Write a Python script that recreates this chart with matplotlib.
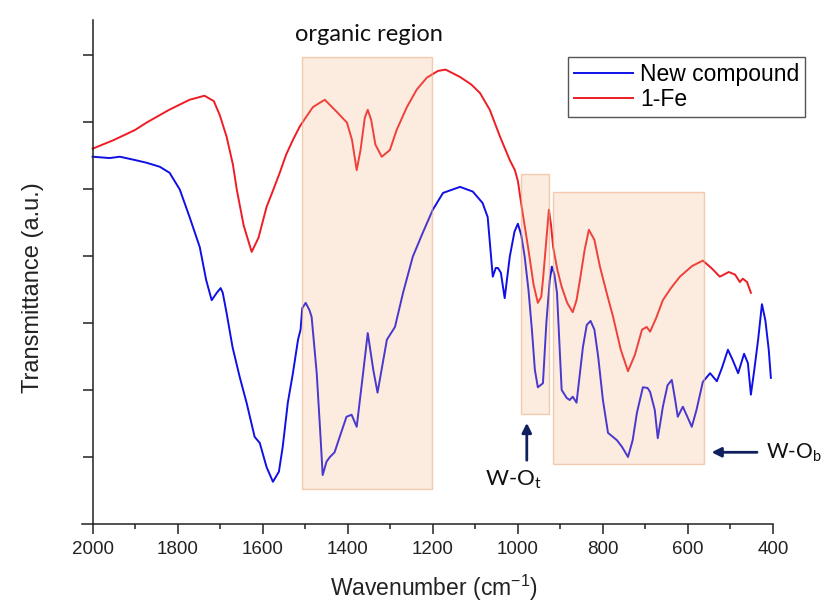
import matplotlib.pyplot as plt
from matplotlib.patches import Rectangle

plt.rcParams['font.family'] = 'Liberation Sans'
plt.rcParams['mathtext.fontset'] = 'custom'
plt.rcParams['mathtext.rm'] = 'Liberation Sans'

# espectro IR, 1-Fe (rojo)
wn_fe = [2000, 1950, 1900, 1873, 1820, 1772, 1737, 1715, 1701, 1685, 1670, 1661, 1645, 1626, 1610,
         1591, 1575, 1560, 1545, 1529, 1513, 1495, 1482, 1467, 1454, 1440, 1426, 1402, 1390, 1379,
         1370, 1360, 1353, 1345, 1335, 1320, 1301, 1285, 1261, 1238, 1214, 1188, 1170, 1136, 1110,
         1089, 1066, 1042, 1019, 1007, 1000, 991, 976, 963, 953, 945, 941, 933, 927, 922,
         917, 907, 897, 884, 871, 862, 854, 843, 833, 820, 807, 790, 776, 758, 741,
         725, 708, 697, 689, 675, 659, 640, 619, 590, 565, 545, 525, 504, 489, 478,
         471, 461, 452]
t_fe = [5.60, 5.73, 5.88, 5.99, 6.18, 6.33, 6.39, 6.31, 6.10, 5.78, 5.36, 4.99, 4.46, 4.06, 4.27,
        4.73, 4.99, 5.24, 5.51, 5.73, 5.93, 6.10, 6.22, 6.28, 6.33, 6.24, 6.15, 5.99, 5.73, 5.28,
        5.58, 6.06, 6.18, 6.03, 5.66, 5.48, 5.58, 5.88, 6.22, 6.48, 6.66, 6.76, 6.78, 6.67, 6.56,
        6.43, 6.18, 5.78, 5.43, 5.28, 5.12, 4.73, 4.13, 3.57, 3.30, 3.39, 3.64, 4.24, 4.69, 4.46,
        4.13, 3.79, 3.54, 3.30, 3.16, 3.34, 3.64, 4.09, 4.39, 4.24, 3.84, 3.42, 3.09, 2.60, 2.28,
        2.52, 2.90, 2.94, 2.87, 3.07, 3.34, 3.52, 3.69, 3.85, 3.93, 3.82, 3.69, 3.76, 3.72, 3.61,
        3.66, 3.61, 3.45]

# compuesto nuevo (azul)
wn_new = [2000, 1960, 1936, 1900, 1873, 1842, 1819, 1795, 1772, 1748, 1733, 1720, 1708, 1699, 1694,
          1685, 1671, 1654, 1638, 1619, 1607, 1591, 1576, 1562, 1553, 1541, 1529, 1517, 1511, 1507,
          1499, 1490, 1485, 1473, 1465, 1459, 1450, 1442, 1431, 1419, 1403, 1391, 1379, 1364, 1353,
          1340, 1330, 1308, 1289, 1270, 1247, 1224, 1200, 1176, 1136, 1106, 1083, 1071, 1059, 1052,
          1047, 1040, 1031, 1019, 1008, 1000, 992, 984, 975, 967, 960, 953, 941, 933, 925,
          920, 914, 908, 897, 885, 878, 871, 862, 847, 838, 829, 820, 811, 800, 788,
          767, 755, 741, 730, 720, 706, 695, 689, 678, 671, 664, 659, 648, 638, 630,
          624, 612, 600, 591, 580, 565, 548, 532, 520, 506, 495, 482, 468, 459, 452,
          444, 435, 426, 418, 410, 405]
t_new = [5.48, 5.46, 5.48, 5.43, 5.39, 5.33, 5.24, 4.99, 4.58, 4.13, 3.64, 3.34, 3.45, 3.52, 3.45,
         3.15, 2.64, 2.19, 1.81, 1.30, 1.21, 0.85, 0.63, 0.78, 1.15, 1.81, 2.25, 2.75, 2.90, 3.22,
         3.30, 3.19, 3.09, 2.25, 1.40, 0.73, 0.93, 1.00, 1.07, 1.30, 1.60, 1.63, 1.45, 2.25, 2.85,
         2.30, 1.96, 2.75, 2.94, 3.45, 3.99, 4.34, 4.69, 4.94, 5.03, 4.96, 4.79, 4.58, 3.69, 3.82,
         3.82, 3.75, 3.37, 3.99, 4.36, 4.48, 4.31, 3.99, 3.49, 2.90, 2.30, 2.04, 2.10, 3.00, 3.64,
         3.84, 3.72, 3.45, 2.00, 1.88, 1.85, 1.90, 1.81, 2.64, 2.97, 3.03, 2.90, 2.49, 1.85, 1.36,
         1.25, 1.15, 1.00, 1.25, 1.66, 2.04, 2.03, 1.97, 1.70, 1.28, 1.55, 1.75, 2.07, 2.15, 1.85,
         1.60, 1.75, 1.58, 1.45, 1.70, 2.12, 2.25, 2.13, 2.33, 2.60, 2.45, 2.25, 2.54, 2.40, 1.93,
         2.30, 2.75, 3.28, 3.04, 2.60, 2.18]

# zonas sombreadas: (desde, hasta, abajo, arriba)
zonas = [(1508, 1202, 0.52, 6.97), (993, 927, 1.64, 5.22), (918, 562, 0.90, 4.96)]

fig = plt.figure(figsize=(8.27, 6.08), dpi=100)
ax = fig.add_axes([82 / 827, 1 - 524 / 608, 691 / 827, 504 / 608])

ax.plot(wn_new, t_new, color='#1010e6', lw=1.4, label='New compound')
ax.plot(wn_fe, t_fe, color='#ee1c24', lw=1.4, label='1-Fe')

for a, b, y0, y1 in zonas:
    ax.add_patch(Rectangle((b, y0), a - b, y1 - y0, facecolor=(0.957, 0.694, 0.514, 0.25),
                           edgecolor=(0.93, 0.66, 0.48, 0.55), lw=1, zorder=3))

ax.set_xlim(2025, 400)
ax.set_ylim(0, 7.52)
ax.spines['left'].set_position(('data', 2000))
ax.spines['top'].set_visible(False)
ax.spines['right'].set_visible(False)
for s in ['left', 'bottom']:
    ax.spines[s].set_linewidth(1.1)
    ax.spines[s].set_color('#222222')

ax.set_xticks(range(2000, 399, -200))
ax.set_xticks(range(1900, 400, -200), minor=True)
ax.set_yticks([1, 2, 3, 4, 5, 6, 7])
ax.set_yticklabels([])
ax.tick_params(direction='out', length=7, width=1.1, labelsize=13.5, pad=5, colors='#222222')
ax.tick_params(which='minor', direction='out', length=3.5, width=1.1, colors='#222222')

fig.text(434 / 827, 1 - 588 / 608, 'Wavenumber (cm$^{-1}$)', ha='center', va='center',
         fontsize=16.5, color='#222222')
fig.text(33 / 827, 1 - 288 / 608, 'Transmittance (a.u.)', ha='center', va='center',
         rotation=90, fontsize=17, color='#222222')

ax.legend(loc='upper left', bbox_to_anchor=((568 - 82) / 691, (524 - 57) / 504), borderaxespad=0,
          fontsize=16.5, fancybox=False, edgecolor='#555555', framealpha=1, handlelength=2.6,
          labelspacing=0.1, borderpad=0.25, handletextpad=0.3).set_zorder(5)

ax.text(1351, 7.31, 'organic region', ha='center', va='center', fontsize=17,
        family='Lato', color='#111111')

flecha = dict(arrowstyle='-|>', color='#10205e', lw=2, mutation_scale=14)
ax.annotate('', xy=(979, 1.55), xytext=(979, 0.91), arrowprops=flecha, annotation_clip=False)
ax.annotate('', xy=(551, 1.07), xytext=(431, 1.07), arrowprops=flecha, annotation_clip=False)
ax.text(1010, 0.66, 'W-O$_{\\mathregular{t}}$', ha='center', va='center', fontsize=16,
        family='Lato', color='#111111')
ax.text(416, 1.06, 'W-O$_{\\mathregular{b}}$', ha='left', va='center', fontsize=15,
        family='Lato', color='#111111', clip_on=False)

fig.savefig('out.png', dpi=100)
